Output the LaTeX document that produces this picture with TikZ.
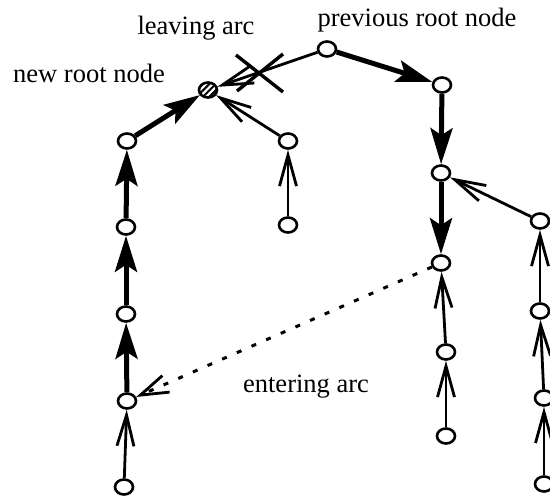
\documentclass[tikz,border=0pt]{standalone}
\usepackage{fontspec}
\setmainfont{Liberation Serif}
\usetikzlibrary{arrows.meta,shapes.geometric,patterns.meta,calc}
\tikzset{
  vertex/.style={draw, ellipse, line width=2.6pt, minimum width=18pt, minimum height=15pt, inner sep=0pt, fill=white},
  rootvertex/.style={vertex, pattern={Lines[angle=45,distance=4.5pt,line width=2pt]}},
  thin arc/.style={line width=2.8pt, -{Straight Barb[length=31pt,width=17pt,line width=2.8pt]}},
  thick arc/.style={line width=5pt, -{Stealth[length=36pt,width=22pt,inset=7pt]}},
  enter arc/.style={line width=3pt, dash pattern=on 5pt off 11pt, -{Straight Barb[length=28pt,width=18pt,line width=2.8pt]}},
  lbl/.style={font=\fontsize{26.5}{30}\selectfont, anchor=base, inner sep=0pt}
}
\begin{document}
\begin{tikzpicture}[x=1pt,y=-1pt]
\useasboundingbox (0,0) rectangle (550,497);

% vertices
\node[vertex] (P) at (327,49) {};
\node[rootvertex] (R) at (208,90) {};
\node[vertex] (A) at (442,85) {};
\node[vertex] (B) at (441,173) {};
\node[vertex] (C) at (441,263) {};
\node[vertex] (C2) at (446,352) {};
\node[vertex] (C3) at (446,436) {};
\node[vertex] (D) at (540,221) {};
\node[vertex] (D2) at (540,311) {};
\node[vertex] (D3) at (544,398) {};
\node[vertex] (D4) at (544,484) {};
\node[vertex] (L1) at (127,141) {};
\node[vertex] (L2) at (126,227) {};
\node[vertex] (L3) at (126,314) {};
\node[vertex] (L4) at (127,401) {};
\node[vertex] (L5) at (124,487) {};
\node[vertex] (M1) at (288,141) {};
\node[vertex] (M2) at (288,225) {};

% tree arcs on the path between the two roots
\draw[thick arc] (L1) -- (R);
\draw[thick arc] (L2) -- (L1);
\draw[thick arc] (L3) -- (L2);
\draw[thick arc] (L4) -- (L3);
\draw[thick arc] (P) -- (A);
\draw[thick arc] (A) -- (B);
\draw[thick arc] (B) -- (C);

% remaining tree arcs
\draw[thin arc] (L5) -- (L4);
\draw[thin arc] (M1) -- (R);
\draw[thin arc] (M2) -- (M1);
\draw[thin arc] (D) -- (B);
\draw[thin arc] (D2) -- (D);
\draw[thin arc] (D3) -- (D2);
\draw[thin arc] (D4) -- (D3);
\draw[thin arc] (C2) -- (C);
\draw[thin arc] (C3) -- (C2);

% leaving arc, crossed out
\draw[thin arc] (P) -- (R);
\coordinate (X) at (260,72);
\draw[line width=3.4pt] ($(X)+(-24,-17)$) -- ($(X)+(23,20)$);
\draw[line width=3.4pt] ($(X)+(-23,19)$) -- ($(X)+(23,-18)$);

% entering arc
\draw[enter arc] (C) -- (L4);

% labels
\node[lbl] (tleave) at (196,35) {leaving arc};
\node[lbl] (tprev) at (417,27) {previous root node};
\node[lbl] (tnew) at (89,83) {new root node};
\node[lbl] (tenter) at (306,393) {entering arc};
\end{tikzpicture}
\end{document}
